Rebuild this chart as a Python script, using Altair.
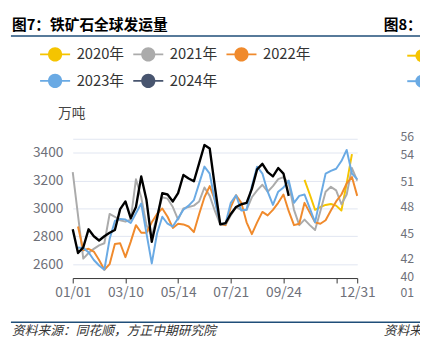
import altair as alt
import pandas as pd

FONT = "Noto Sans CJK SC"

# ---------------- data (weekly index 0..54) ----------------
N = None
weeks = list(range(55))
years = ["2020年", "2021年", "2022年", "2023年", "2024年"]
colors = ["#F5C400", "#ABABAB", "#F08A2C", "#6AAAE4", "#000000"]
legend_colors = ["#F5C400", "#ABABAB", "#F08A2C", "#6AAAE4", "#48556F"]

y2020 = [N] * 44 + [3205, 3100, 2990, 3010, 3025, 3032, 3020, 2985, 3180, 3390, N]
y2021 = [3260, 2950, 2640, 2680, 2710, 2735, 2750, 2960, 2940, 2915,
         2905, 2920, 3210, 3080, 2880, 2800, 2950, 3080, 3070, 3010,
         2920, 3000, 3010, 3020, 3050, 3150, 3090, 2980, 2885, 2880,
         2950, 3010, 2990, 2990, 3080, 3130, 3170, 3120, 3160, 3210,
         3225, 3180, 2990, 2880, 2920, 2880, 2845, 2980, 3120, 3155,
         3130, 3030, 3100, 3290, 3200]
y2022 = [N, 2870, 2700, 2710, 2690, 2630, 2560, 2600, 2745, 2750,
         2650, 2760, 2880, 2825, 2825, 2900, 2960, 3000, 2940, 2860,
         2890, 2885, 2870, 2830, 2960, 3080, 3160, 3060, 2890, 2880,
         3010, 3095, 3040, 2900, 2815, 2900, 2975, 2950, 2990, 3040,
         3100, 2980, 2880, 2890, 3040, 2970, 2900, 2890, 2915, 2985,
         3050, 3100, 3180, 3225, 3090]
y2023 = [N, 2720, 2715, 2685, 2630, 2590, 2560, 2780, 2910, 2925,
         2920, 2895, 2965, 3035, 2820, 2605, 2820, 2940, 2890, 2870,
         2930, 2990, 3020, 3060, 3180, 3300, 3250, 3050, 2890, 2890,
         3040, 3095, 2985, 2990, 3160, 3300, 3250, 3120, 3025, 3120,
         3150, 3200, 3040, 3090, 3100, 3000, 2900, 3080, 3250, 3270,
         3285, 3340, 3420, 3250, 3210]
y2024 = [2850, 2680, 2720, 2850, 2800, 2770, 2800, 2825, 2845, 2995,
         3050, 2930, 3010, 3230, 3060, 2760, 2930, 3110, 3100, 3050,
         3110, 3240, 3215, 3195, 3325, 3455, 3430, 3150, 2885, 2895,
         2960, 3010, 3030, 3040, 3140, 3280, 3320, 3260, 3230, 3290,
         3250, 3090] + [N] * 13

tick_pos = [0, 10, 20, 30, 40, 50, 54]
tick_labels = ["01/01", "03/10", "05/14", "07/21", "09/24", "", "12/31"]
y_ticks = [2600, 2800, 3000, 3200, 3400, 3500]

title_text = "图7：铁矿石全球发运量"
next_title = "图8："
unit_text = "万吨"
source_text = "资料来源：同花顺，方正中期研究院"
next_source = "资料来"
next_axis = ["56", "54", "51", "48", "45", "42", "40"]

# ---------------- build table ----------------
rows = []
for yr, series in zip(years, [y2020, y2021, y2022, y2023, y2024]):
    for w, v in zip(weeks, series):
        if v is not None:
            rows.append({"week": w, "value": v, "year": yr})
df = pd.DataFrame(rows)
df_leg = pd.DataFrame({"series": years})

label_expr = ""
for p, l in zip(tick_pos, tick_labels):
    label_expr += f"datum.value == {p} ? '{l}' : "
label_expr += "''"

x_enc = alt.X("week:Q",
              scale=alt.Scale(domain=[0, 54], nice=False, zero=False),
              axis=alt.Axis(values=tick_pos, labelExpr=label_expr, labelFlush=False,
                            labelOverlap=False, grid=False, domainColor="#333333",
                            tickColor="#333333", tickSize=5, labelPadding=3,
                            labelFontSize=14, labelColor="#6E7079", labelFont=FONT,
                            title=None))
y_enc = alt.Y("value:Q",
              scale=alt.Scale(domain=[2500, 3500], nice=False, zero=False),
              axis=alt.Axis(values=y_ticks, format="d",
                            labelExpr="datum.value == 3500 ? '' : datum.label",
                            domain=False, ticks=False, tickSize=0, labelPadding=10,
                            gridColor="#E0E6F1", gridWidth=1, labelFontSize=14,
                            labelColor="#6E7079", labelFont=FONT, title=None))

# line colours come from a data-driven (sorted) domain, the legend from an explicit one
lines = alt.Chart(df).mark_line(strokeJoin="round").encode(
    x=x_enc,
    y=y_enc,
    stroke=alt.Stroke("year:N", scale=alt.Scale(range=colors), legend=None),
    strokeWidth=alt.condition("datum.year == '2024年'", alt.value(2.4), alt.value(2)),
)

sym = ("M-1.53,-0.09L1.53,-0.09L1.53,0.09L-1.53,0.09Z "
       "M0.72,0A0.72,0.72,0,1,1,-0.72,0A0.72,0.72,0,1,1,0.72,0Z")

legend_pts = alt.Chart(df_leg).mark_point(filled=True, opacity=1, clip=True).encode(
    x=alt.value(0),
    y=alt.value(-3000),
    fill=alt.Fill("series:N", scale=alt.Scale(domain=years, range=legend_colors),
                  legend=alt.Legend(title=None, orient="none", legendX=-28, legendY=-96,
                                    direction="horizontal", columns=3,
                                    symbolType=sym, symbolSize=400,
                                    symbolStrokeWidth=0, labelFont=FONT, labelFontSize=15,
                                    labelColor="#333333", labelOffset=12,
                                    columnPadding=8, rowPadding=9, padding=0)),
)


def txt(t, x, y, size=14, color="#333333", weight="normal", style="normal", align="left"):
    return alt.Chart(pd.DataFrame({"t": [t]})).mark_text(
        font=FONT, fontSize=size, color=color, fontWeight=weight, fontStyle=style,
        align=align, baseline="middle").encode(text="t:N", x=alt.value(x), y=alt.value(y))


def hline(x1, x2, y, color, width):
    return alt.Chart(pd.DataFrame({"a": [0]})).mark_rule(color=color, strokeWidth=width).encode(
        x=alt.value(x1), x2=alt.value(x2), y=alt.value(y))


layers = [lines, legend_pts]
layers.append(txt(title_text, -62, -115.5, size=15, color="#000000", weight="bold"))
layers.append(txt(next_title, 317, -115.5, size=15, color="#000000", weight="bold"))
layers.append(hline(-63, 354, -104.7, "#1F4E79", 1.5))
layers.append(txt(unit_text, -15, -25.5, size=14, color="#444444"))
layers.append(hline(-63, 354, 187, "#1F4E79", 1.5))
layers.append(txt(source_text, -62, 196.5, size=13, color="#333333", style="italic"))
layers.append(txt(next_source, 317, 196.5, size=13, color="#333333", style="italic"))
for lab, yy in zip(next_axis, [-1.3, 17, 43.7, 70, 97, 122.5, 141]):
    layers.append(txt(lab, 334, yy, size=12.5, color="#6E7079"))
layers.append(txt("01", 334, 157.5, size=12.5, color="#6E7079"))
# partial legend of the neighbouring figure
layers.append(hline(341, 354, -84.7, colors[0], 2))
layers.append(hline(341, 354, -58.7, colors[3], 2))
layers.append(alt.Chart(pd.DataFrame({"a": [0]})).mark_point(
    filled=True, opacity=1, color=colors[0], size=180).encode(x=alt.value(356), y=alt.value(-84.7)))
layers.append(alt.Chart(pd.DataFrame({"a": [0]})).mark_point(
    filled=True, opacity=1, color=colors[3], size=180).encode(x=alt.value(356), y=alt.value(-58.7)))

chart = alt.layer(*layers).properties(
    width=290, height=142,
    autosize=alt.AutoSizeParams(type="none"),
    padding={"left": 66, "top": 130, "right": 64, "bottom": 69},
).configure_view(stroke=None)

chart.save("out.html", embed_options={"renderer": "svg", "actions": False})
